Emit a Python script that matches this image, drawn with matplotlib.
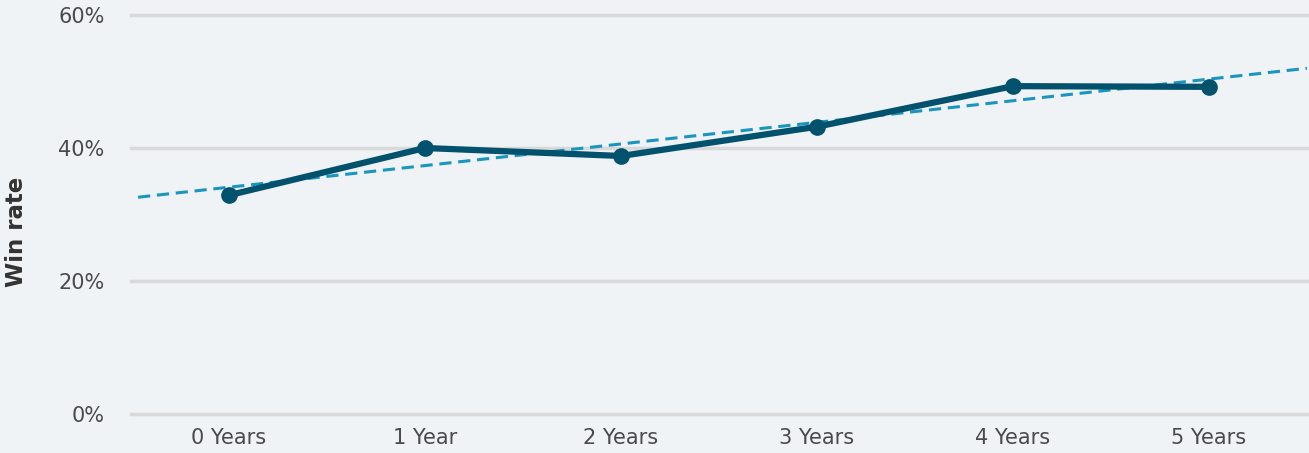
import matplotlib.pyplot as plt
import numpy as np

categories = ["0 Years", "1 Year", "2 Years", "3 Years", "4 Years", "5 Years"]
win_rate = [32.9, 40.0, 38.8, 43.2, 49.3, 49.2]
y_ticks = [0, 20, 40, 60]

bg = "#eff3f6"
plt.rcParams['font.family'] = ['DejaVu Sans']

fig = plt.figure(figsize=(13.09, 4.53), dpi=100, facecolor=bg)
ax = fig.add_axes([131 / 1309, 39 / 453, 1176 / 1309, 399 / 453], facecolor=bg)

x = np.arange(len(categories))
# linear trend line across the plot
k, b = np.polyfit(x, win_rate, 1)
tx = np.array([-0.464, 5.5])
ax.plot(tx, k * tx + b, color="#1a95c0", lw=2.2, ls=(0, (4, 2.2)), zorder=2)
ax.plot(x, win_rate, color="#02526e", lw=4.5, marker="o", ms=11, zorder=3)

ax.set_xlim(-0.5, 5.5)
ax.set_ylim(0, 60)
ax.set_yticks(y_ticks)
ax.set_yticklabels([f"{t}%" for t in y_ticks])
ax.set_xticks(x)
ax.set_xticklabels(categories)
ax.tick_params(length=0, labelsize=15, colors="#4a4a4a")
ax.tick_params(axis="y", pad=19)
ax.tick_params(axis="x", pad=10)
ax.grid(axis="y", color="#d9d9d9", lw=2.5)
for gl in ax.get_ygridlines():
    gl.set_clip_on(False)
ax.set_axisbelow(True)
for s in ax.spines.values():
    s.set_visible(False)
ax.set_ylabel("Win rate", fontsize=16.5, fontweight="bold", color="#333333")
ax.yaxis.set_label_coords(-0.088, 0.456)

fig.savefig("out.png", dpi=100, facecolor=bg)
